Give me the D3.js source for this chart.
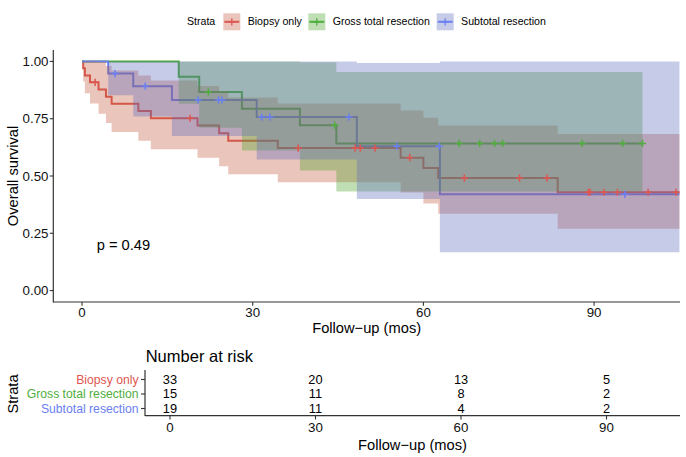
<!DOCTYPE html>
<html><head><meta charset="utf-8">
<script src="https://cdn.jsdelivr.net/npm/d3@7"></script>
<style>
html,body{margin:0;padding:0;background:#fff;}
svg{display:block;font-family:"Liberation Sans",Arial,Helvetica,sans-serif;}
</style></head>
<body>
<svg id="c" width="686" height="457"></svg>
<script>
// ---------------- data ----------------
const strata = ["Biopsy only", "Gross total resection", "Subtotal resection"];
const lineColors = ["#DD5650", "#4FAE3C", "#6A80F2"];
const bandColors = ["#C3593B", "#4BA129", "#5C6ABD"];

// Biopsy only
const bioTime  = [0, 0.2, 0.5, 1.4, 2.9, 4.2, 5.2, 9.9, 12.1, 20.3, 24.1, 25.7, 34.4, 56.0, 60.0, 62.6, 83.6];
const bioSurv  = [1, 0.970, 0.939, 0.909, 0.878, 0.846, 0.815, 0.784, 0.752, 0.720, 0.687, 0.654, 0.622, 0.580, 0.535, 0.491, 0.429];
const bioUpper = [1, 1, 1, 1, 0.998, 0.980, 0.960, 0.939, 0.917, 0.893, 0.869, 0.843, 0.816, 0.786, 0.754, 0.720, 0.683];
const bioLower = [1, 0.913, 0.861, 0.816, 0.772, 0.731, 0.692, 0.654, 0.617, 0.580, 0.543, 0.508, 0.473, 0.428, 0.380, 0.335, 0.270];
const bioCensor = [2.3, 19.0, 38.0, 48.0, 48.9, 51.5, 57.6, 67.2, 76.9, 81.7, 89.0, 89.3, 91.7, 94.1, 99.5, 104.4];
const bioEnd = 105;

// Gross total resection
const gtrTime  = [0, 17.0, 20.6, 28.1, 38.3, 44.7];
const gtrSurv  = [1, 0.933, 0.867, 0.794, 0.722, 0.642];
const gtrUpper = [1, 1, 1, 1, 0.996, 0.954];
const gtrLower = [1, 0.815, 0.711, 0.611, 0.524, 0.432];
const gtrCensor = [22.2, 44.4, 66.3, 69.9, 72.5, 73.9, 87.9, 95.0, 98.5];
const gtrEnd = 98.5;

// Subtotal resection
const strTime  = [0, 4.6, 9.0, 15.8, 30.7, 48.3, 62.9];
const strSurv  = [1, 0.947, 0.892, 0.832, 0.757, 0.630, 0.420];
const strUpper = [1, 1, 1, 1, 1, 0.993, 1];
const strLower = [1, 0.852, 0.760, 0.675, 0.572, 0.400, 0.167];
const strCensor = [5.8, 11.1, 20.4, 24.0, 24.6, 31.6, 33.0, 46.9, 55.3, 62.8, 95.4];
const strEnd = 105;

const xTicks = [0, 30, 60, 90];
const yTicks = [0, 0.25, 0.5, 0.75, 1];
const yTickLabels = ["0.00", "0.25", "0.50", "0.75", "1.00"];
const pValueLabel = "p = 0.49";

const riskTimes = [0, 30, 60, 90];
const riskBio = [33, 20, 13, 5];
const riskGtr = [15, 11, 8, 2];
const riskStr = [19, 11, 4, 2];

// ---------------- assemble ----------------
const groups = [
  {name: strata[0], time: bioTime, surv: bioSurv, up: bioUpper, lo: bioLower, cens: bioCensor, end: bioEnd, risk: riskBio},
  {name: strata[1], time: gtrTime, surv: gtrSurv, up: gtrUpper, lo: gtrLower, cens: gtrCensor, end: gtrEnd, risk: riskGtr},
  {name: strata[2], time: strTime, surv: strSurv, up: strUpper, lo: strLower, cens: strCensor, end: strEnd, risk: riskStr}
];
groups.forEach((g, i) => {
  g.color = lineColors[i];
  g.band = bandColors[i];
  g.pts = g.time.map((t, k) => ({t, s: g.surv[k], hi: g.up[k], lo: g.lo[k]}));
  const last = g.pts[g.pts.length - 1];
  g.pts.push({t: g.end, s: last.s, hi: last.hi, lo: last.lo});
});

const svg = d3.select("#c");
const FONT_TICK = 13.3, FONT_TITLE = 14.7;

// main panel scales
const x = d3.scaleLinear().domain([-5.05, 105.1]).range([53.3, 680]);
const y = d3.scaleLinear().domain([-0.05, 1.05]).range([302, 50]);

svg.append("clipPath").attr("id", "clip").append("rect")
  .attr("x", 53.3).attr("y", 50).attr("width", 680 - 53.3).attr("height", 252);

const plot = svg.append("g").attr("clip-path", "url(#clip)");

const line = d3.line().curve(d3.curveStepAfter).x(d => x(d.t)).y(d => y(d.s));
const area = d3.area().curve(d3.curveStepAfter).x(d => x(d.t)).y0(d => y(d.lo)).y1(d => y(d.hi));

// lines
groups.forEach(g => {
  plot.append("path").attr("d", line(g.pts)).attr("fill", "none")
    .attr("stroke", g.color).attr("stroke-width", 2);
});
// confidence bands
groups.forEach(g => {
  plot.append("path").attr("d", area(g.pts)).attr("fill", g.band).attr("fill-opacity", 0.35);
});
// censor marks
const plus = "M-3.6,0H3.6M0,-3.6V3.6";
groups.forEach(g => {
  g.cens.forEach(c => {
    const k = d3.bisectRight(g.time, c) - 1;
    plot.append("path").attr("d", plus)
      .attr("transform", `translate(${x(c)},${y(g.surv[k])})`)
      .attr("stroke", g.color).attr("stroke-width", 1.5).attr("fill", "none");
  });
});

// axes
const axisColor = "#333";
svg.append("line").attr("x1", 53.3).attr("x2", 53.3).attr("y1", 50).attr("y2", 302.5)
  .attr("stroke", axisColor).attr("stroke-width", 1.2);
svg.append("line").attr("x1", 53.3).attr("x2", 680).attr("y1", 302).attr("y2", 302)
  .attr("stroke", axisColor).attr("stroke-width", 1.2);
yTicks.forEach((v, i) => {
  svg.append("line").attr("x1", 49.8).attr("x2", 53.3).attr("y1", y(v)).attr("y2", y(v))
    .attr("stroke", axisColor).attr("stroke-width", 1.1);
  svg.append("text").attr("x", 48.5).attr("y", y(v)).attr("dy", "0.35em")
    .attr("text-anchor", "end").attr("font-size", FONT_TICK).attr("fill", "#111").text(yTickLabels[i]);
});
xTicks.forEach(v => {
  svg.append("line").attr("x1", x(v)).attr("x2", x(v)).attr("y1", 302).attr("y2", 305.8)
    .attr("stroke", axisColor).attr("stroke-width", 1.1);
  svg.append("text").attr("x", x(v)).attr("y", 317).attr("text-anchor", "middle")
    .attr("font-size", FONT_TICK).attr("fill", "#111").text(v);
});
svg.append("text").attr("x", (53.3 + 680) / 2).attr("y", 333).attr("text-anchor", "middle")
  .attr("font-size", FONT_TITLE).attr("fill", "#000").text("Follow\u2212up (mos)");
svg.append("text").attr("transform", "translate(18.3,176) rotate(-90)").attr("text-anchor", "middle")
  .attr("font-size", FONT_TITLE).attr("fill", "#000").text("Overall survival");
svg.append("text").attr("x", 96.7).attr("y", 250).attr("font-size", FONT_TITLE)
  .attr("fill", "#000").text(pValueLabel);

// legend
const leg = svg.append("g");
leg.append("text").attr("x", 187).attr("y", 21.7).attr("dy", "0.35em").attr("font-size", 10.6)
  .attr("fill", "#000").text("Strata");
const keyX = [223.3, 308.3, 436.7];
groups.forEach((g, i) => {
  const kx = keyX[i], ky = 13.3, ks = 17;
  leg.append("rect").attr("x", kx).attr("y", ky).attr("width", ks).attr("height", ks)
    .attr("fill", "#fff");
  leg.append("rect").attr("x", kx).attr("y", ky).attr("width", ks).attr("height", ks)
    .attr("fill", g.band).attr("fill-opacity", 0.35);
  leg.append("line").attr("x1", kx + 1).attr("x2", kx + ks - 1).attr("y1", ky + ks / 2).attr("y2", ky + ks / 2)
    .attr("stroke", g.color).attr("stroke-width", 2);
  leg.append("path").attr("d", plus).attr("transform", `translate(${kx + ks / 2},${ky + ks / 2})`)
    .attr("stroke", g.color).attr("stroke-width", 1.3);
  leg.append("text").attr("x", kx + 24.4).attr("y", 21.7).attr("dy", "0.35em").attr("font-size", 10.6)
    .attr("fill", "#000").text(g.name);
});

// ---------------- risk table ----------------
const rx = d3.scaleLinear().domain([-5.15, 105.15]).range([145, 680]);
const ry = d3.scalePoint().domain(strata).range([379.5, 408.5]);

svg.append("text").attr("x", 145.7).attr("y", 361.7).attr("font-size", 16.5).attr("fill", "#000")
  .text("Number at risk");
svg.append("line").attr("x1", 145).attr("x2", 145).attr("y1", 370).attr("y2", 416)
  .attr("stroke", axisColor).attr("stroke-width", 1.2);
svg.append("line").attr("x1", 145).attr("x2", 680).attr("y1", 415.7).attr("y2", 415.7)
  .attr("stroke", axisColor).attr("stroke-width", 1.2);
groups.forEach(g => {
  svg.append("line").attr("x1", 141).attr("x2", 145).attr("y1", ry(g.name)).attr("y2", ry(g.name))
    .attr("stroke", axisColor).attr("stroke-width", 1.1);
  svg.append("text").attr("x", 138.5).attr("y", ry(g.name)).attr("dy", "0.35em").attr("text-anchor", "end")
    .attr("font-size", 12.2).attr("fill", g.color).text(g.name);
  riskTimes.forEach((t, k) => {
    svg.append("text").attr("x", rx(t)).attr("y", ry(g.name)).attr("dy", "0.35em").attr("text-anchor", "middle")
      .attr("font-size", 12.8).attr("fill", "#000").text(g.risk[k]);
  });
});
riskTimes.forEach(t => {
  svg.append("line").attr("x1", rx(t)).attr("x2", rx(t)).attr("y1", 415.7).attr("y2", 419.5)
    .attr("stroke", axisColor).attr("stroke-width", 1.1);
  svg.append("text").attr("x", rx(t)).attr("y", 431.5).attr("text-anchor", "middle")
    .attr("font-size", FONT_TICK).attr("fill", "#111").text(t);
});
svg.append("text").attr("x", (145 + 680) / 2).attr("y", 449.5).attr("text-anchor", "middle")
  .attr("font-size", FONT_TITLE).attr("fill", "#000").text("Follow\u2212up (mos)");
svg.append("text").attr("transform", "translate(18.3,394) rotate(-90)").attr("text-anchor", "middle")
  .attr("font-size", FONT_TITLE).attr("fill", "#000").text("Strata");
</script>
</body></html>
